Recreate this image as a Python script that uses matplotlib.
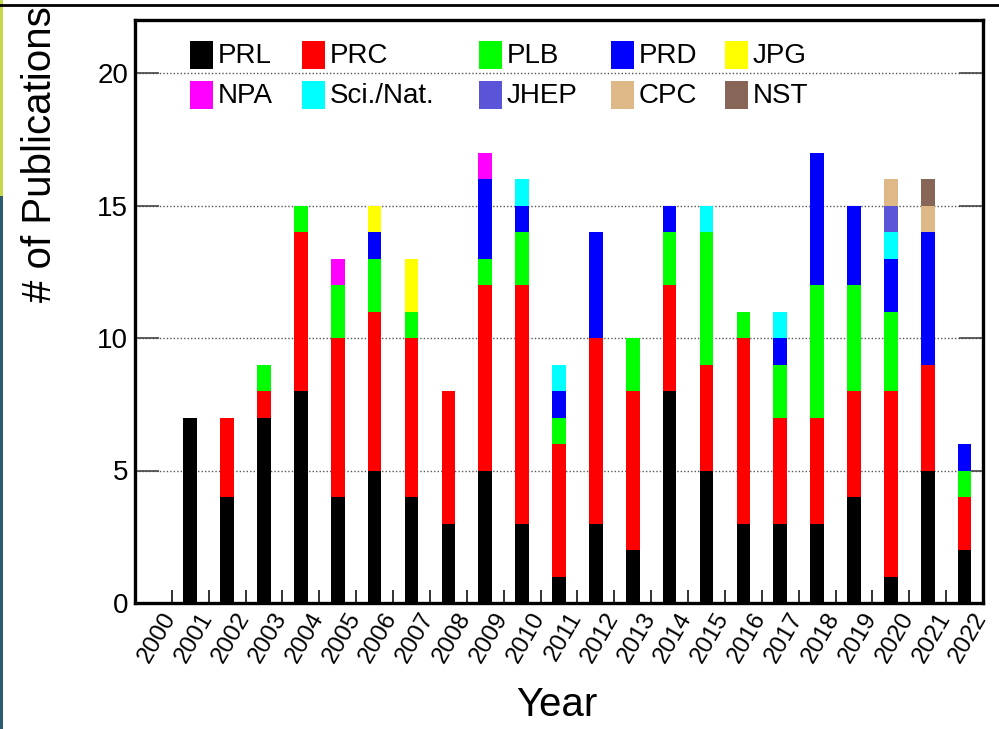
import numpy as np
import matplotlib
matplotlib.use("Agg")
import matplotlib.pyplot as plt
import matplotlib.transforms as mtransforms
from matplotlib.patches import Rectangle
from matplotlib.lines import Line2D

plt.rcParams['font.family'] = ['Liberation Sans', 'DejaVu Sans']

# DATA
years = [str(y) for y in range(2000, 2023)]
journals = ['PRL', 'PRC', 'PLB', 'PRD', 'JPG', 'NPA', 'Sci./Nat.', 'JHEP', 'CPC', 'NST']
colors = ['#000000', '#ff0000', '#00ff00', '#0000ff', '#ffff00',
          '#ff00ff', '#00ffff', '#5954d8', '#deb887', '#876657']

#        2000 01 02 03 04 05 06 07 08 09 10 11 12 13 14 15 16 17 18 19 20 21 22
prl  = [0, 7, 4, 7, 8, 4, 5, 4, 3, 5, 3, 1, 3, 2, 8, 5, 3, 3, 3, 4, 1, 5, 2]
prc  = [0, 0, 3, 1, 6, 6, 6, 6, 5, 7, 9, 5, 7, 6, 4, 4, 7, 4, 4, 4, 7, 4, 2]
plb  = [0, 0, 0, 1, 1, 2, 2, 1, 0, 1, 2, 1, 0, 2, 2, 5, 1, 2, 5, 4, 3, 0, 1]
prd  = [0, 0, 0, 0, 0, 0, 1, 0, 0, 3, 1, 1, 4, 0, 1, 0, 0, 1, 5, 3, 2, 5, 1]
jpg  = [0, 0, 0, 0, 0, 0, 1, 2, 0, 0, 0, 0, 0, 0, 0, 0, 0, 0, 0, 0, 0, 0, 0]
npa  = [0, 0, 0, 0, 0, 1, 0, 0, 0, 1, 0, 0, 0, 0, 0, 0, 0, 0, 0, 0, 0, 0, 0]
scin = [0, 0, 0, 0, 0, 0, 0, 0, 0, 0, 1, 1, 0, 0, 0, 1, 0, 1, 0, 0, 1, 0, 0]
jhep = [0, 0, 0, 0, 0, 0, 0, 0, 0, 0, 0, 0, 0, 0, 0, 0, 0, 0, 0, 0, 1, 0, 0]
cpc  = [0, 0, 0, 0, 0, 0, 0, 0, 0, 0, 0, 0, 0, 0, 0, 0, 0, 0, 0, 0, 1, 1, 0]
nst  = [0, 0, 0, 0, 0, 0, 0, 0, 0, 0, 0, 0, 0, 0, 0, 0, 0, 0, 0, 0, 0, 1, 0]
series = [prl, prc, plb, prd, jpg, npa, scin, jhep, cpc, nst]

W, H = 999, 729


def fx(px):
    return px / W


def fy(py):
    return 1 - py / H


def main():
    fig = plt.figure(figsize=(W / 100, H / 100), dpi=100)
    ax = fig.add_axes([fx(135), fy(603), (983 - 135) / W, (603 - 20) / H])

    x = np.arange(len(years))
    bottom = np.zeros(len(years))
    for vals, col in zip(series, colors):
        vals = np.array(vals, dtype=float)
        ax.bar(x, vals, width=0.37, bottom=bottom, color=col, linewidth=0, zorder=3)
        bottom += vals

    ax.set_xlim(-0.5, len(years) - 0.5)
    ax.set_ylim(0, 22)

    # y axis
    ax.set_yticks([0, 5, 10, 15, 20])
    ax.tick_params(axis='y', direction='in', length=17, width=1.2, color='#444444',
                   labelsize=20, pad=5, right=True, left=True)
    ax.yaxis.grid(True, linestyle=(0, (1, 1.5)), color='#555555', linewidth=1.0, zorder=0)
    ax.set_axisbelow(True)

    # x axis: labels at bin centres, small ticks at bin edges
    ax.set_xticks(x)
    ax.set_xticklabels(years, rotation=60, ha='right', va='center',
                       rotation_mode='anchor', fontsize=17.5)
    ax.tick_params(axis='x', which='major', length=0, pad=8)
    ax.set_xticks(np.arange(len(years) + 1) - 0.5, minor=True)
    ax.tick_params(axis='x', which='minor', direction='in', length=9.5, width=1.3,
                   color='#222222', bottom=True, top=False)
    shift = mtransforms.ScaledTranslation(12.6 / 72, 0, fig.dpi_scale_trans)
    for lab in ax.get_xticklabels():
        lab.set_transform(lab.get_transform() + shift)

    for sp in ax.spines.values():
        sp.set_linewidth(2.4)
        sp.set_color('black')

    # axis titles
    fig.text(fx(40), fy(6), '# of Publications', rotation=90, ha='center', va='top',
             fontsize=29)
    fig.text(fx(557), fy(705), 'Year', ha='center', va='center', fontsize=29)

    # legend (ROOT-like, 5 columns)
    col_x = [190, 302, 479, 611, 725]
    row_y = [55, 95]
    for i, (name, col) in enumerate(zip(journals, colors)):
        cx = col_x[i % 5]
        cy = row_y[i // 5]
        fig.add_artist(Rectangle((fx(cx), fy(cy + 14)), 23 / W, 28 / H,
                                 transform=fig.transFigure, facecolor=col,
                                 edgecolor='none'))
        fig.text(fx(cx + 28), fy(cy + 1), name, ha='left', va='center', fontsize=20)

    # screenshot frame bits
    fig.add_artist(Line2D([0, 1], [fy(5), fy(5)], transform=fig.transFigure,
                          color='black', linewidth=2.0))
    fig.add_artist(Rectangle((0, fy(196)), 2.5 / W, 196 / H, transform=fig.transFigure,
                             facecolor='#c5d94a', edgecolor='none'))
    fig.add_artist(Rectangle((0, 0), 3 / W, fy(196), transform=fig.transFigure,
                             facecolor='#2c5b70', edgecolor='none'))

    fig.savefig('out.png', dpi=100)


if __name__ == "__main__":
    main()
